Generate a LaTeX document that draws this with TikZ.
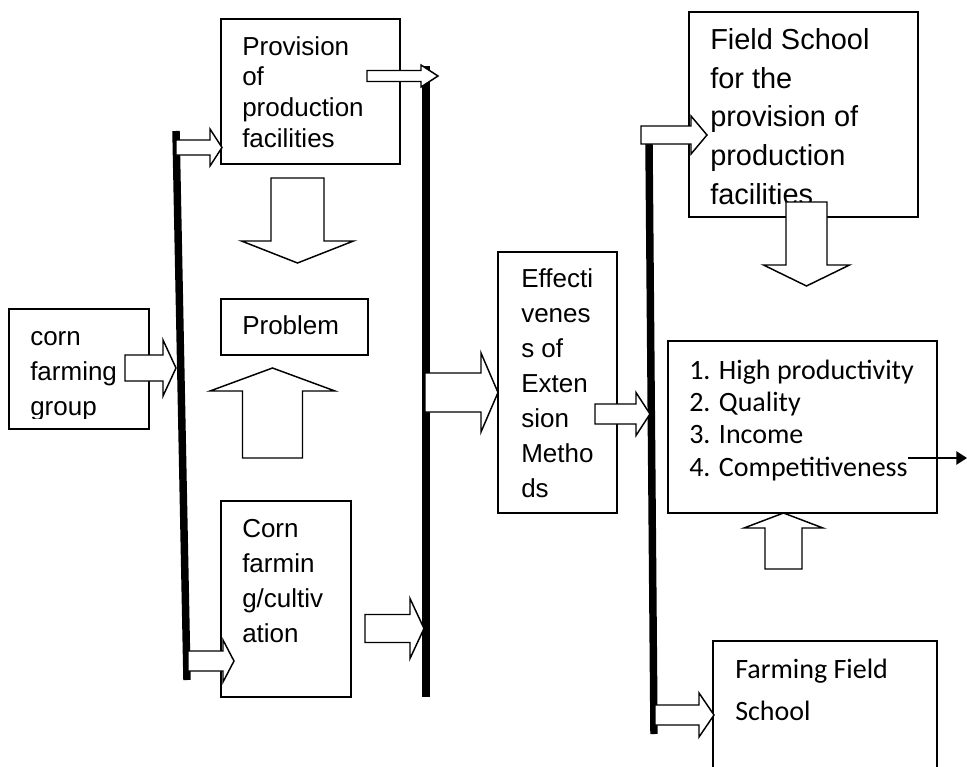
\documentclass[tikz,border=0pt]{standalone}
\usepackage{fontspec}
\setmainfont{Liberation Sans}
\newfontfamily\calib{Carlito}
\usetikzlibrary{calc,arrows.meta,positioning,fit}

\begin{document}
\begin{tikzpicture}[x=0.75pt,y=-0.75pt,
  box/.style={draw, line width=1.5pt, inner sep=0pt},
  txt/.style={anchor=base west, align=left, inner sep=0pt, font=\fontsize{19.5}{26.25}\selectfont},
  bar/.style={line width=5.6pt},
  pics/fat/.style n args={4}{code={
    \draw[fill=white, line width=1.1pt] (0,-#2) -- (#1-#4,-#2) -- (#1-#4,-#3) -- (#1,0)
      -- (#1-#4,#3) -- (#1-#4,#2) -- (0,#2) -- cycle;
  }}]
\useasboundingbox (0,0) rectangle (967,767);
\clip (0,0) rectangle (967,767);

% boxes
\node[box, fit={(9,309) (149,429)}] (grp) {};
\node[box, fit={(221,19) (400,164)}] (prov) {};
\node[box, fit={(221,299) (368,355)}] (prob) {};
\node[box, fit={(221,501) (351,697)}] (cult) {};
\node[box, fit={(498,252) (617,513)}] (eff) {};
\node[box, fit={(689,12) (918,217)}] (fsp) {};
\node[box, fit={(668,341) (937,513)}] (res) {};
\node[box, fit={(713,641) (937,790)}] (ffs) {};

% texts (anchored on the last line)
\begin{scope}
  \clip (9,309) rectangle (149,418);
  \node[txt] (grp-t) at (30,415) {corn\\farming\\group};
\end{scope}
\node[txt, font=\fontsize{19.5}{23}\selectfont] (prov-t) at (242,147) {Provision\\of\\production\\facilities};
\node[txt] (prob-t) at (242,334) {Problem};
\node[txt] (cult-t) at (242,642) {Corn\\farmin\\g/cultiv\\ation};
\node[txt] (eff-t) at (521,497) {Effecti\\venes\\s of\\Exten\\sion\\Metho\\ds};
\node[txt, font=\fontsize{21.7}{28.9}\selectfont] (fsp-t) at (710,204) {Field School\\for the\\provision of\\production\\facilities};
\node[txt, font=\calib\fontsize{21}{24.2}\selectfont] (res-t) at (689,476) {1. High productivity\\2. Quality\\3. Income\\4. Competitiveness};
\node[txt, font=\calib\fontsize{21}{31.5}\selectfont] (ffs-t) at (735,720) {Farming Field\\School};

% bars
\draw[bar] (176,131) -- (187,680);
\draw[bar] (426,66) -- (426,697);
\draw[bar] (649,144) -- (654,734);

% block arrows: tail x/tail y/length/shaft/head/head length/angle
\foreach \tx/\ty/\len/\sh/\hh/\hl/\rot in {
  125/368/51/13/28/13/0, 176/147.5/46/7.5/18.5/12/0, 188/661/46/10/21/11/0,
  367/76/71/5.5/11/17/0, 365/628.5/59/14/30/14/0, 425/392.5/73/19.5/39.5/17/0,
  595/414/55/10/21.5/14/0, 641/135/66/9/19/16/0, 655/715/59/10/22/15/0,
  297.5/178/85/26.5/56/22/-90, 272.5/458/90/30/62.5/23/90,
  806.5/202/84/20.5/43/21/-90, 783.5/569/56/18.5/39.5/15/90}
  \pic[rotate=\rot] at (\tx,\ty) {fat={\len}{\sh}{\hh}{\hl}};

\coordinate (o1) at (908,458);
\coordinate (o2) at (967,458);
\draw[line width=1.1pt, -{Triangle[length=8pt,width=10pt]}] (o1) -- (o2);
\end{tikzpicture}
\end{document}
